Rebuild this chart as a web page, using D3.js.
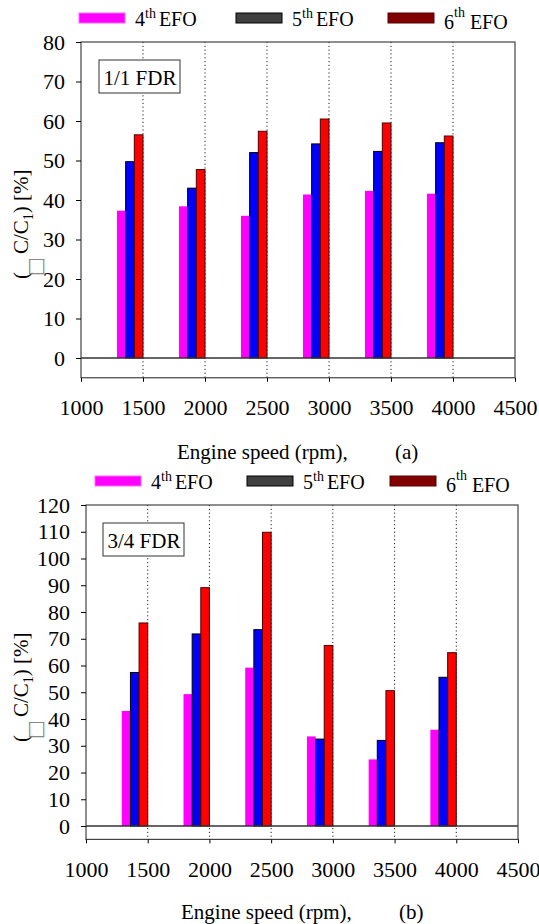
<!DOCTYPE html>
<html>
<head>
<meta charset="utf-8">
<script src="https://cdn.jsdelivr.net/npm/d3@7"></script>
<style>
  body { margin: 0; background: #fff; }
  svg { display: block; font-family: "Liberation Serif", "Times New Roman", serif; }
</style>
</head>
<body>
<svg id="chart" width="539" height="924"></svg>
<script>
// Data
const speeds = [1500, 2000, 2500, 3000, 3500, 4000];
const xTicks = [1000, 1500, 2000, 2500, 3000, 3500, 4000, 4500];
const efoOrders = ["4", "5", "6"];

// 1/1 FDR
const fdr11_4th = [37.3, 38.4, 36.0, 41.4, 42.3, 41.6];
const fdr11_5th = [49.7, 43.0, 52.0, 54.2, 52.3, 54.5];
const fdr11_6th = [56.5, 47.7, 57.4, 60.5, 59.5, 56.2];
const yTicks11 = [0, 10, 20, 30, 40, 50, 60, 70, 80];

// 3/4 FDR
const fdr34_4th = [43.0, 49.3, 59.2, 33.5, 24.9, 36.0];
const fdr34_5th = [57.4, 71.8, 73.4, 32.5, 32.0, 55.6];
const fdr34_6th = [75.9, 89.1, 109.8, 67.5, 50.6, 64.8];
const yTicks34 = [0, 10, 20, 30, 40, 50, 60, 70, 80, 90, 100, 110, 120];

const barFill = ["#ff00ff", "#0000ff", "#ff0000"];
const barStroke = ["none", "#000", "#500000"];
const swatchFill = ["#ff00ff", "#404040", "#800000"];
const swatchStroke = ["#ff66ff", "#000", "#5a0000"];

const svg = d3.select("#chart");
const serif = '"Liberation Serif", "Times New Roman", serif';

function drawPanel(cfg) {
  const g = svg.append("g");
  const x = d3.scaleLinear().domain([1000, 4500]).range([cfg.left, cfg.right]);
  const y = d3.scaleLinear().domain([-5, cfg.yMax]).range([cfg.bottom, cfg.top]);
  const barSpan = 70; // rpm width of a single bar

  // bars
  cfg.series.forEach((vals, i) => {
    g.selectAll(null)
      .data(vals.map((v, j) => ({ s: speeds[j], v })))
      .enter()
      .append("rect")
      .attr("x", d => x(d.s - (3 - i) * barSpan))
      .attr("width", d => x(d.s - (2 - i) * barSpan) - x(d.s - (3 - i) * barSpan))
      .attr("y", d => y(d.v))
      .attr("height", d => y(0) - y(d.v))
      .attr("fill", barFill[i])
      .attr("stroke", barStroke[i])
      .attr("stroke-width", 1);
  });

  // dotted verticals
  g.selectAll(null)
    .data(speeds)
    .enter()
    .append("line")
    .attr("x1", d => x(d)).attr("x2", d => x(d))
    .attr("y1", cfg.top).attr("y2", cfg.bottom)
    .attr("stroke", "#222")
    .attr("stroke-width", 1)
    .attr("stroke-dasharray", "1.2,2.6");

  // zero line
  g.append("line")
    .attr("x1", cfg.left).attr("x2", cfg.right)
    .attr("y1", y(0)).attr("y2", y(0))
    .attr("stroke", "#333").attr("stroke-width", 1.3);

  // frame
  g.append("rect")
    .attr("x", cfg.left).attr("y", cfg.top)
    .attr("width", cfg.right - cfg.left).attr("height", cfg.bottom - cfg.top)
    .attr("fill", "none").attr("stroke", "#444").attr("stroke-width", 1.2);

  // axes
  const xAxis = g.append("g")
    .attr("transform", `translate(0,${cfg.bottom})`)
    .call(d3.axisBottom(x).tickValues(xTicks).tickFormat(d3.format("d"))
      .tickSize(4).tickSizeOuter(0).tickPadding(18));
  xAxis.select(".domain").remove();
  xAxis.selectAll("text").attr("fill", "#000")
    .style("font-family", serif).style("font-size", "22px");

  const yAxis = g.append("g")
    .attr("transform", `translate(${cfg.left},0)`)
    .call(d3.axisLeft(y).tickValues(cfg.yTicks).tickSize(5).tickSizeOuter(0).tickPadding(11));
  yAxis.select(".domain").remove();
  yAxis.selectAll("text").attr("fill", "#000")
    .style("font-family", serif).style("font-size", "22px");

  // FDR box
  const box = g.append("g");
  box.append("rect")
    .attr("x", cfg.boxX).attr("y", cfg.boxY)
    .attr("width", 81).attr("height", 33)
    .attr("fill", "#fff").attr("stroke", "#333").attr("stroke-width", 1);
  box.append("text")
    .attr("x", cfg.boxX + 41).attr("y", cfg.boxY + 25)
    .attr("text-anchor", "middle")
    .style("font-size", "21px")
    .text(cfg.boxLabel);

  // y label
  const yl = g.append("text")
    .attr("transform", `translate(28,${cfg.yLabelY}) rotate(-90)`)
    .style("font-size", "21px");
  yl.append("tspan").text("(");
  yl.append("tspan").text("\u25A1").attr("dx", -4).attr("dy", 14)
    .style("font-size", "20px").style("font-family", "DejaVu Sans").attr("fill", "#888");
  yl.append("tspan").text("C/C").attr("dx", 3).attr("dy", -14);
  yl.append("tspan").text("1").attr("dy", 5).style("font-size", "14px");
  yl.append("tspan").text(") [%]").attr("dy", -5);

  // x label
  g.append("text")
    .attr("x", cfg.xTitleX).attr("y", cfg.xTitleY)
    .style("font-size", "21px")
    .text("Engine speed (rpm),");
  g.append("text")
    .attr("x", cfg.xTitleX + 218).attr("y", cfg.xTitleY)
    .style("font-size", "21px")
    .text(cfg.panelTag);

  // legend
  efoOrders.forEach((o, i) => {
    const lx = cfg.legendX[i];
    g.append("rect")
      .attr("x", lx).attr("y", cfg.legendY - 10)
      .attr("width", 46).attr("height", 10)
      .attr("fill", swatchFill[i]).attr("stroke", swatchStroke[i]).attr("stroke-width", 1);
    const late = i === 2;
    const t = g.append("text")
      .attr("x", lx + 56).attr("y", cfg.legendY + (late ? 6 : 3))
      .style("font-size", "20px");
    t.append("tspan").text(o);
    t.append("tspan").text("th").attr("dy", late ? -12 : -8).style("font-size", "14px");
    t.append("tspan").text(late ? " EFO" : "EFO").attr("dy", late ? 12 : 8).attr("dx", late ? 0 : 3);
  });
}

drawPanel({
  left: 81, right: 515, top: 42, bottom: 377.75, yMax: 80,
  yTicks: yTicks11,
  series: [fdr11_4th, fdr11_5th, fdr11_6th],
  boxX: 99, boxY: 60, boxLabel: "1/1 FDR",
  yLabelY: 279,
  xTitleX: 177, xTitleY: 459, panelTag: "(a)",
  legendX: [79, 236, 388], legendY: 23
});

drawPanel({
  left: 86, right: 518, top: 505, bottom: 839.4, yMax: 120,
  yTicks: yTicks34,
  series: [fdr34_4th, fdr34_5th, fdr34_6th],
  boxX: 103, boxY: 523, boxLabel: "3/4 FDR",
  yLabelY: 742,
  xTitleX: 181, xTitleY: 919, panelTag: "(b)",
  legendX: [95, 247, 390], legendY: 486
});
</script>
</body>
</html>
